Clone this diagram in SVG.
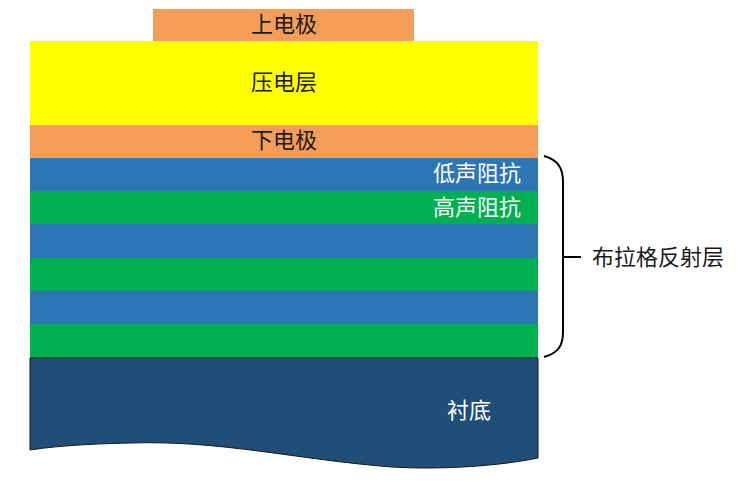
<svg xmlns="http://www.w3.org/2000/svg" width="739" height="491" viewBox="0 0 739 491">
<style>
.t{font-family:"Noto Sans CJK SC","Liberation Serif",serif;font-size:22px;text-anchor:middle;dominant-baseline:central}
.dark{fill:#1a1a1a}
.light{fill:#ffffff}
.orange{fill:#F49D59}
.blue{fill:#2E75B6}
.green{fill:#00B050}
</style>
<rect width="739" height="491" fill="#ffffff"/>
<g id="top-electrode"><rect class="orange" x="153" y="9" width="261" height="32"/><text class="t dark" x="284" y="22">上电极</text></g>
<g id="piezo"><rect fill="#FFFF00" x="30" y="41" width="508" height="84"/><text class="t dark" x="284" y="80">压电层</text></g>
<g id="bottom-electrode"><rect class="orange" x="30" y="125" width="508" height="33"/><text class="t dark" x="284" y="138">下电极</text></g>
<g id="bragg">
<rect class="blue" x="30" y="158" width="508" height="33"/>
<text class="t light" x="477" y="171">低声阻抗</text>
<rect class="green" x="30" y="191" width="508" height="33"/>
<text class="t light" x="477" y="205">高声阻抗</text>
<rect class="blue" x="30" y="224" width="508" height="34"/>
<rect class="green" x="30" y="258" width="508" height="33"/>
<rect class="blue" x="30" y="291" width="508" height="33"/>
<rect class="green" x="30" y="324" width="508" height="34"/>
</g>
<g id="substrate"><path d="M30 358 L538 358 L538 458 C500 466 440 470 392 467 C300 460 220 440 131 443 C80 444 50 447 30 450 Z" fill="#1F4E79" stroke="#1a1a1a" stroke-width="1"/><text class="t light" x="469" y="408">衬底</text></g>
<g id="connectors"><path d="M544 156 C558 160 563 168 563 182 L563 332 C563 346 558 353 544 357 M563 257 L581 257" fill="none" stroke="#000" stroke-width="2"/></g>
<g id="bragg-label"><text class="t dark" x="658" y="255">布拉格反射层</text></g>
</svg>
